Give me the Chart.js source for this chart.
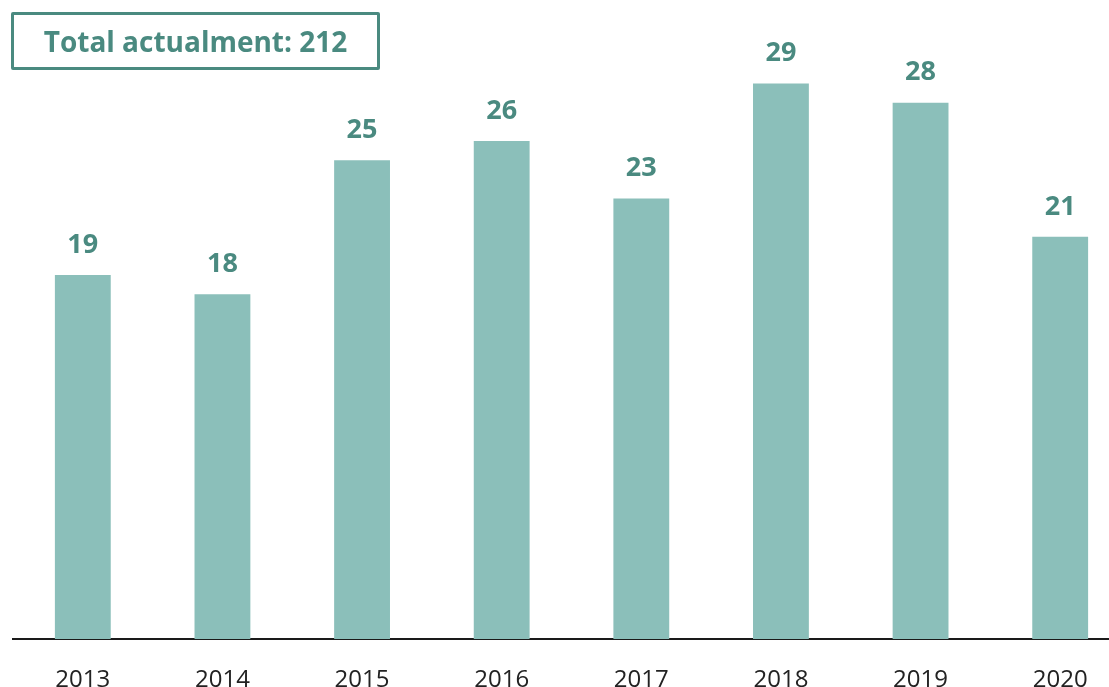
<!DOCTYPE html>
<html>
<head>
<meta charset="utf-8">
<script src="https://cdn.jsdelivr.net/npm/chart.js@4"></script>
<style>
  html, body { margin: 0; padding: 0; background: #fff; overflow: hidden; }
  #wrap { position: relative; width: 1135px; height: 687px; }
  #total {
    position: absolute; left: 11px; top: 12px; width: 363px; height: 52px;
    border: 3px solid #4a8a80; border-radius: 2px;
    font-family: "Open Sans", sans-serif; font-weight: bold; font-size: 28px;
    color: #4a8a80; display: flex; align-items: center; justify-content: center;
    box-sizing: content-box;
  }
</style>
</head>
<body>
<div id="wrap">
  <canvas id="myChart" width="1135" height="687"></canvas>
  <div id="total">Total actualment: 212</div>
</div>
<script>
// years and counts
var years = ['2013', '2014', '2015', '2016', '2017', '2018', '2019', '2020'];
var counts = [19, 18, 25, 26, 23, 29, 28, 21];

var barColor = '#8bbfba';
var labelColor = '#4a8a80';

// draws the number above each bar
var valueLabels = {
  id: 'valueLabels',
  afterDatasetsDraw: function (chart) {
    var ctx = chart.ctx;
    var meta = chart.getDatasetMeta(0);
    ctx.save();
    ctx.fillStyle = labelColor;
    ctx.font = 'bold 27px "Open Sans", sans-serif';
    ctx.textAlign = 'center';
    ctx.textBaseline = 'middle';
    meta.data.forEach(function (bar, i) {
      ctx.fillText(counts[i], bar.x, bar.y - 30);
    });
    ctx.restore();
  }
};

var ctx = document.getElementById('myChart').getContext('2d');
var myChart = new Chart(ctx, {
  type: 'bar',
  data: {
    labels: years,
    datasets: [{
      data: counts,
      backgroundColor: barColor,
      barPercentage: 0.4,
      categoryPercentage: 1
    }]
  },
  options: {
    responsive: false,
    animation: false,
    layout: { padding: { left: 13, right: 5, top: 7, bottom: 0 } },
    plugins: {
      legend: { display: false },
      tooltip: { enabled: false }
    },
    scales: {
      x: {
        grid: { display: false },
        border: { display: true, color: '#1a1a1a', width: 2 },
        ticks: {
          color: '#222',
          padding: 19,
          font: { family: '"Open Sans", sans-serif', size: 24 }
        },
        afterFit: function (scale) { scale.height = 48; }
      },
      y: {
        display: false,
        min: 0,
        max: 33
      }
    }
  },
  plugins: [valueLabels]
});
</script>
</body>
</html>
